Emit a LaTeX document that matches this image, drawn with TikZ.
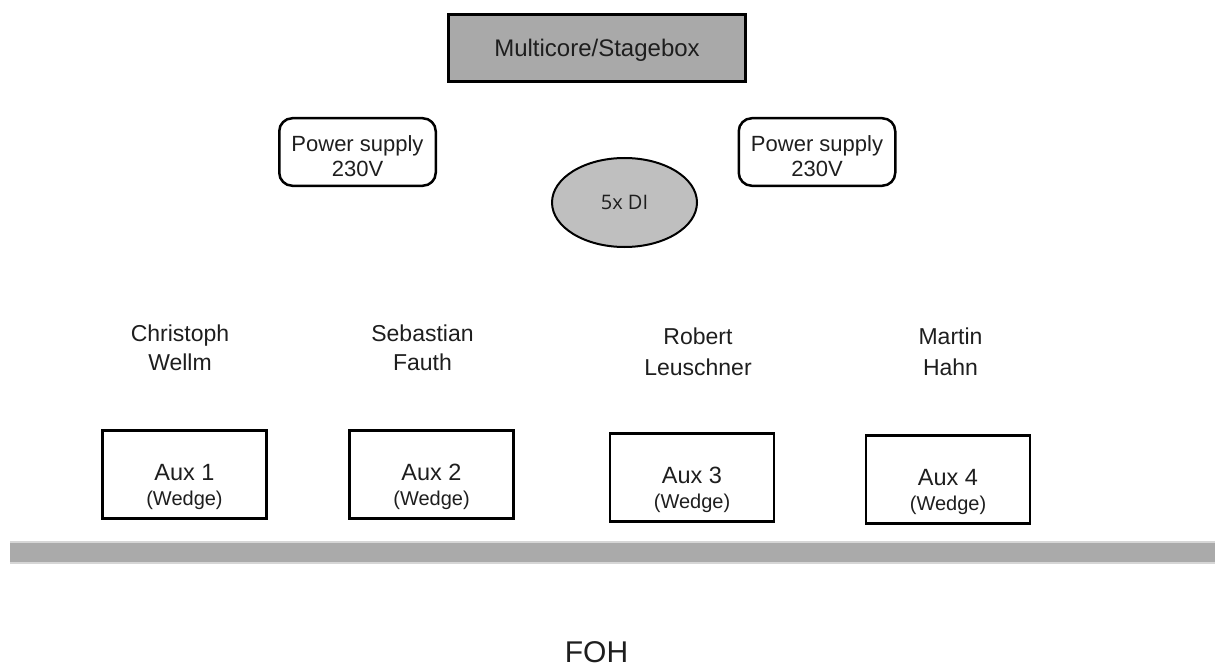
\documentclass[tikz,border=0pt]{standalone}
\usepackage{fontspec}
\setmainfont{Liberation Sans}
\newfontfamily\diFont{Open Sans}
\usetikzlibrary{shapes.geometric}
\definecolor{txt}{HTML}{1E1E1E}
\definecolor{boxgray}{HTML}{A9A9A9}
\definecolor{elgray}{HTML}{BFBFBF}
\definecolor{bargray}{HTML}{AAAAAA}
\definecolor{baredge}{HTML}{D6D6D6}
\begin{document}
\begin{tikzpicture}[x=1pt,y=-1pt,
  every node/.style={text=txt, inner sep=0pt, outer sep=0pt},
  mcbox/.style={draw=black, fill=boxgray, line width=3pt, minimum width=297pt, minimum height=67pt, text depth=0pt, font=\fontsize{24}{28}\selectfont},
  psbox/.style={draw=black, line width=2.5pt, rounded corners=13pt, minimum width=156.5pt, minimum height=67.5pt, align=center, font=\fontsize{22}{25}\selectfont},
  dibox/.style={ellipse, draw=black, fill=elgray, line width=2pt, minimum width=145pt, minimum height=89pt, font=\diFont\fontsize{20}{22}\selectfont},
  auxbox/.style={draw=black, line width=2.7pt, minimum width=164pt, minimum height=88pt, align=center, font=\fontsize{23.5}{25}\selectfont},
  namelbl/.style={align=center, font=\fontsize{23}{29}\selectfont},
  namelblb/.style={align=center, font=\fontsize{23}{31}\selectfont},
]
\useasboundingbox (0,0) rectangle (1215,666);
% top equipment
\node[mcbox] (mc) at (597,48) {Multicore/Stagebox};
\node[psbox] (psl) at (357.5,152) {\rule{0pt}{24pt}Power supply\\230V};
\node[psbox] (psr) at (817,152) {\rule{0pt}{24pt}Power supply\\230V};
\node[dibox] (di) at (624.5,202.5) {5x DI};
% musicians
\node[namelbl] (n1) at (180,348) {Christoph\\Wellm};
\node[namelbl] (n2) at (422.5,348) {Sebastian\\Fauth};
\node[namelblb] (n3) at (698,352) {Robert\\Leuschner};
\node[namelblb] (n4) at (950.5,352) {Martin\\Hahn};
% wedges
\node[auxbox] (a1) at (184.5,474.5) {\rule{0pt}{41pt}Aux 1\\{\fontsize{20}{25}\selectfont (Wedge)}};
\node[auxbox] (a2) at (431.5,474.5) {\rule{0pt}{41pt}Aux 2\\{\fontsize{20}{25}\selectfont (Wedge)}};
\node[auxbox] (a3) at (692,477.5) {\rule{0pt}{41pt}Aux 3\\{\fontsize{20}{25}\selectfont (Wedge)}};
\node[auxbox] (a4) at (948,479.5) {\rule{0pt}{41pt}Aux 4\\{\fontsize{20}{25}\selectfont (Wedge)}};
% stage edge
\fill[bargray] (10,542) rectangle (1215,563);
\draw[baredge, line width=1.2pt] (10,542) -- (1215,542);
\draw[baredge, line width=1.2pt] (10,563) -- (1215,563);
% front of house
\node[anchor=base, font=\fontsize{30}{30}\selectfont] (foh) at (596.5,662) {FOH};
\end{tikzpicture}
\end{document}
